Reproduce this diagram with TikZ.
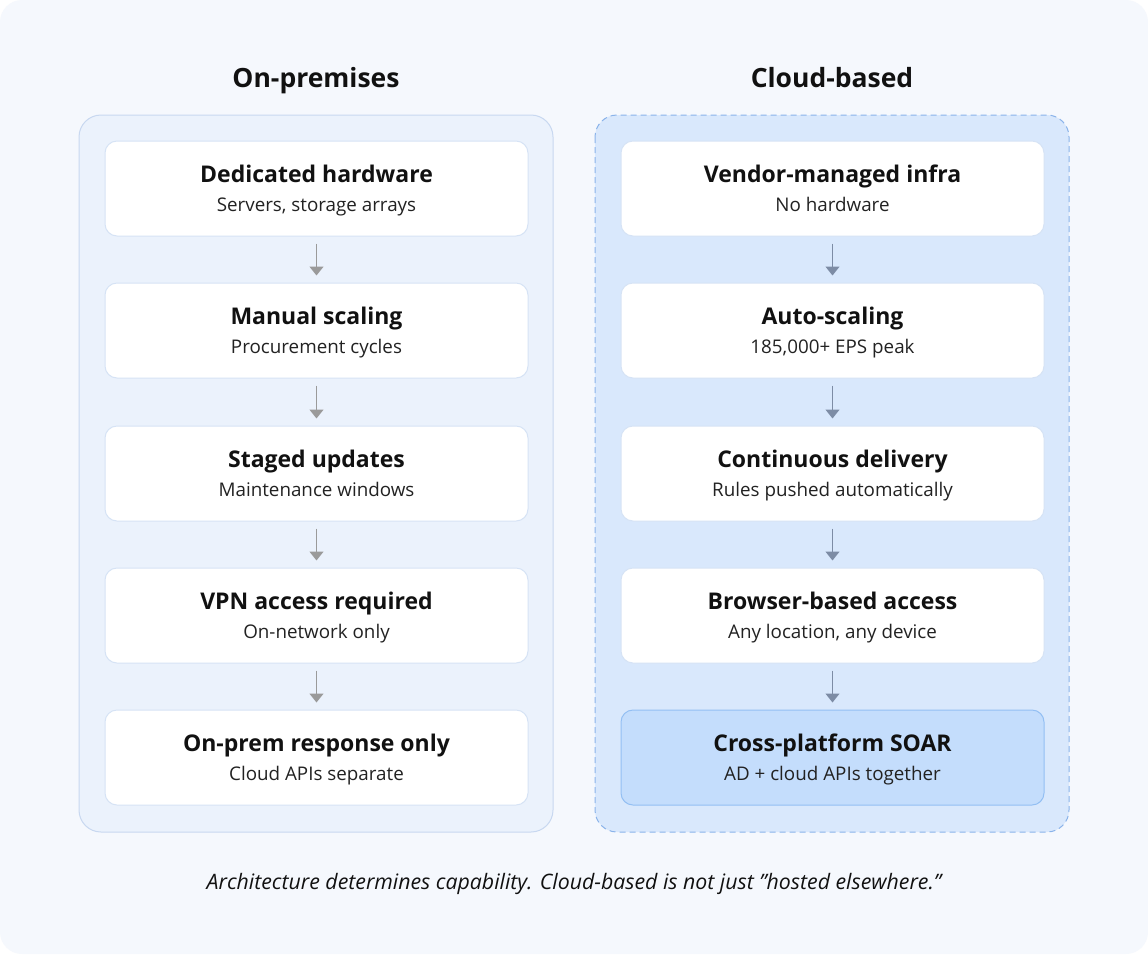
\documentclass[tikz,border=0pt]{standalone}
\usepackage{fontspec}
\setmainfont{Open Sans}
\usetikzlibrary{arrows.meta}
\definecolor{pagebg}{HTML}{F5F8FD}
\definecolor{leftfill}{HTML}{EBF2FC}
\definecolor{leftline}{HTML}{C8D8F0}
\definecolor{rightfill}{HTML}{D9E8FC}
\definecolor{rightline}{HTML}{8AB3EA}
\definecolor{boxline}{HTML}{D6E3F5}
\definecolor{hlfill}{HTML}{C4DDFC}
\definecolor{hlline}{HTML}{93BFF3}
\definecolor{txt}{HTML}{111111}
\definecolor{subtxt}{HTML}{222222}
\definecolor{arrL}{HTML}{9A9A9A}
\definecolor{arrR}{HTML}{7D8CA5}
\tikzset{
  x=1pt,y=-1pt,
  panel/.style={rounded corners=22pt, line width=1pt},
  card/.style={draw=boxline, fill=white, rounded corners=12pt, line width=1pt,
    minimum width=423pt, minimum height=95pt, inner sep=0pt},
  hlcard/.style={card, draw=hlline, fill=hlfill},
  ctitle/.style={anchor=base, inner sep=0pt, font=\fontsize{23}{27}\selectfont\bfseries, text=txt},
  csub/.style={anchor=base, inner sep=0pt, font=\fontsize{18.8}{22}\selectfont, text=subtxt},
  flowL/.style={draw=arrL, line width=1.2pt, -{Triangle[width=14pt,length=9pt]}},
  flowR/.style={draw=arrR, line width=1.2pt, -{Triangle[width=14pt,length=9pt]}},
  heading/.style={anchor=base, inner sep=0pt, font=\fontsize{26.5}{31}\selectfont\bfseries, text=txt},
}
\newcommand{\mkcard}[5]{%
  \node[#1] (#2) at (#3) {};
  \node[ctitle] (#2t) at ([yshift=6.5pt]#2.center) {#4};
  \node[csub] (#2s) at ([yshift=-22.5pt]#2.center) {#5};
}
\begin{document}
\begin{tikzpicture}
\useasboundingbox (0,0) rectangle (1148,954);
\fill[white] (0,0) rectangle (1148,954);
\fill[pagebg, rounded corners=22pt] (0,0) rectangle (1148,954);
\draw[panel, fill=leftfill, draw=leftline] (79,115) rectangle (553,832);
\draw[panel, fill=rightfill, draw=rightline, dashed, dash pattern=on 6pt off 4pt] (595,115) rectangle (1069,832);
\node[heading] (hL) at (316,87) {On-premises};
\node[heading] (hR) at (832,87) {Cloud-based};
% left column
\mkcard{card}{l1}{316.5,188.5}{Dedicated hardware}{Servers, storage arrays}
\mkcard{card}{l2}{316.5,330.5}{Manual scaling}{Procurement cycles}
\mkcard{card}{l3}{316.5,473.5}{Staged updates}{Maintenance windows}
\mkcard{card}{l4}{316.5,615.5}{VPN access required}{On-network only}
\mkcard{card}{l5}{316.5,757.5}{On-prem response only}{Cloud APIs separate}
% right column
\mkcard{card}{r1}{832.5,188.5}{Vendor-managed infra}{No hardware}
\mkcard{card}{r2}{832.5,330.5}{Auto-scaling}{185,000+ EPS peak}
\mkcard{card}{r3}{832.5,473.5}{Continuous delivery}{Rules pushed automatically}
\mkcard{card}{r4}{832.5,615.5}{Browser-based access}{Any location, any device}
\mkcard{hlcard}{r5}{832.5,757.5}{Cross-platform SOAR}{AD + cloud APIs together}
\foreach \a/\b in {l1/l2,l2/l3,l3/l4,l4/l5}{
  \draw[flowL] ([yshift=-7pt]\a.south) -- ([yshift=7pt]\b.north);
}
\foreach \a/\b in {r1/r2,r2/r3,r3/r4,r4/r5}{
  \draw[flowR] ([yshift=-7pt]\a.south) -- ([yshift=7pt]\b.north);
}
\node[anchor=base, inner sep=0pt, font=\fontsize{21.3}{25}\selectfont\itshape, text=txt] (cap) at (574,889) {Architecture determines capability. Cloud-based is not just \symbol{34}hosted elsewhere.\symbol{34}};
\end{tikzpicture}
\end{document}
